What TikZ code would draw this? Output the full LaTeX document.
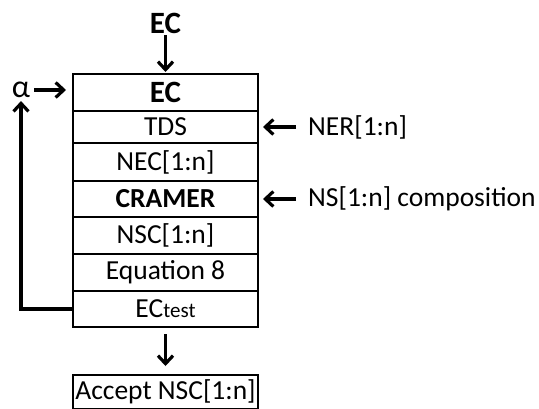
\documentclass[tikz,border=0pt]{standalone}
\usepackage{fontspec}
\setmainfont{Carlito}
\usetikzlibrary{arrows.meta, positioning}

\begin{document}
\begin{tikzpicture}[
  x=1pt, y=1pt,
  row/.style={rectangle, draw, line width=2pt, minimum width=185pt, inner sep=0pt, outer sep=0pt, align=center, font=\fontsize{27.5}{30}\selectfont},
  lbl/.style={inner sep=2pt, font=\fontsize{27.5}{30}\selectfont},
  arr/.style={draw, line width=3.2pt, -{Straight Barb[length=8pt,width=15pt,line width=3.2pt]}},
]
  \useasboundingbox (0,0) rectangle (539,408);

  % the stack of rows
  \node[row, minimum height=37pt, anchor=north, font=\fontsize{31}{34}\selectfont\bfseries] (ec) at (165.5,334) {EC};
  \node[row, minimum height=32pt, below=0pt of ec] (tds) {TDS};
  \node[row, minimum height=38pt, below=0pt of tds] (nec) {NEC[1:n]};
  \node[row, minimum height=36pt, below=0pt of nec, font=\fontsize{27.5}{30}\selectfont\bfseries] (cramer) {CRAMER};
  \node[row, minimum height=37pt, below=0pt of cramer] (nsc) {NSC[1:n]};
  \node[row, minimum height=37pt, below=0pt of nsc] (eq) {Equation 8};
  \node[row, minimum height=36pt, below=0pt of eq] (ectest) {EC{\fontsize{21}{24}\selectfont test}};
  \node[row, minimum height=34pt, below=48pt of ectest] (accept) {Accept NSC[1:n]};

  % inputs
  \node[lbl, font=\fontsize{31}{33}\selectfont\bfseries] (ecin) at (165.5,385) {EC};
  \node[lbl, font=\fontsize{32}{34}\selectfont] (alpha) at (21,318) {α};
  \node[lbl, right=48pt of tds] (ner) {NER[1:n]};
  \node[lbl, right=48pt of cramer] (ns) {NS[1:n] composition};

  \draw[arr, shorten >=2pt] (ecin) -- (ec);
  \draw[arr, shorten <=2pt, shorten >=7pt] (alpha.east) -- (alpha.east -| ec.west);
  \draw[arr, shorten <=10pt, shorten >=5pt] (ner) -- (tds);
  \draw[arr, shorten <=10pt, shorten >=5pt] (ns) -- (cramer);
  \draw[arr, shorten >=9pt, shorten <=7pt] (ectest) -- (accept);
  \draw[arr, shorten >=1pt] (ectest.west) -| (alpha.south);
\end{tikzpicture}
\end{document}
